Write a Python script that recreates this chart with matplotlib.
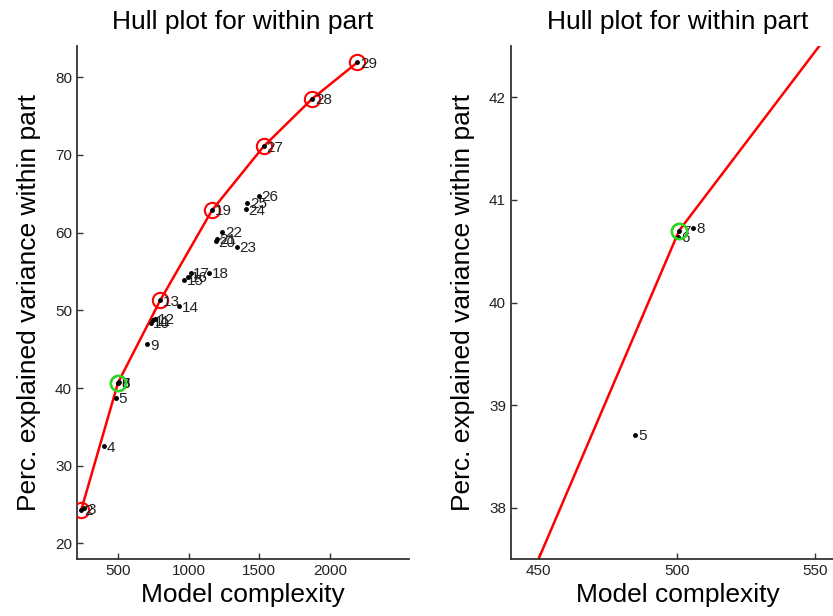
import matplotlib
matplotlib.use("Agg")
import matplotlib.pyplot as plt

plt.rcParams['font.family'] = ['Liberation Sans', 'DejaVu Sans']

# model index, complexity and explained variance
labels = [2, 3, 4, 5, 6, 7, 8, 9, 10, 11, 12, 13, 14, 15, 16, 17, 18, 19,
          20, 21, 22, 23, 24, 25, 26, 27, 28, 29]
complexity = [240, 262, 403, 485, 500.6, 500.9, 506, 707, 731, 745, 762, 800,
              931, 967, 997, 1014, 1143, 1167, 1191, 1198, 1238, 1341, 1403,
              1414, 1497, 1532, 1874, 2195]
variance = [24.3, 24.5, 32.5, 38.71, 40.64, 40.70, 40.73, 45.6, 48.4, 48.7,
            48.9, 51.3, 50.5, 53.9, 54.3, 54.8, 54.8, 62.9, 58.9, 59.2, 60.1,
            58.2, 63.0, 63.8, 64.7, 71.1, 77.2, 81.9]

hull_models = [2, 7, 13, 19, 27, 28, 29]
selected = 7

hull_x = [complexity[labels.index(m)] for m in hull_models]
hull_y = [variance[labels.index(m)] for m in hull_models]
sel_x = complexity[labels.index(selected)]
sel_y = variance[labels.index(selected)]

fig = plt.figure(figsize=(8.33, 6.16), dpi=100)
ax1 = fig.add_axes([0.0924, 0.0925, 0.3986, 0.8328])
ax2 = fig.add_axes([0.6134, 0.0925, 0.401, 0.8328])


def draw(ax):
    ax.plot(hull_x, hull_y, color='#ff0000', lw=1.8, zorder=2)
    ax.plot(hull_x, hull_y, 'o', ms=11, mfc='none', mec='#ff0000', mew=1.5, zorder=3)
    ax.plot(complexity, variance, '.', color='black', ms=5, zorder=4)
    ax.plot([sel_x], [sel_y], 'o', ms=11, mfc='none', mec='#22dd22', mew=1.8, zorder=5)
    for lab, x, y in zip(labels, complexity, variance):
        ax.annotate(str(lab), (x, y), xytext=(2, -1), textcoords='offset points',
                    fontsize=11, color='#222222', va='center', ha='left')
    ax.set_title('Hull plot for within part', fontsize=19, pad=12)
    ax.set_xlabel('Model complexity', fontsize=19, labelpad=4)
    ax.set_ylabel('Perc. explained variance within part', fontsize=19)
    for s in ['top', 'right']:
        ax.spines[s].set_visible(False)
    for s in ['left', 'bottom']:
        ax.spines[s].set_color('#333333')
        ax.spines[s].set_linewidth(1.3)
    ax.tick_params(direction='in', length=4, width=1, colors='#333333',
                   labelsize=11, labelcolor='#222222')


draw(ax1)
ax1.set_xlim(210, 2560)
ax1.set_ylim(18, 84)
ax1.set_xticks([500, 1000, 1500, 2000])
ax1.set_yticks([20, 30, 40, 50, 60, 70, 80])
ax1.yaxis.labelpad = 10

draw(ax2)
ax2.set_xlim(440, 561)
ax2.set_ylim(37.5, 42.5)
ax2.set_xticks([450, 500, 550])
ax2.set_yticks([38, 39, 40, 41, 42])
ax2.yaxis.labelpad = 10

fig.savefig('out.png', dpi=100)
